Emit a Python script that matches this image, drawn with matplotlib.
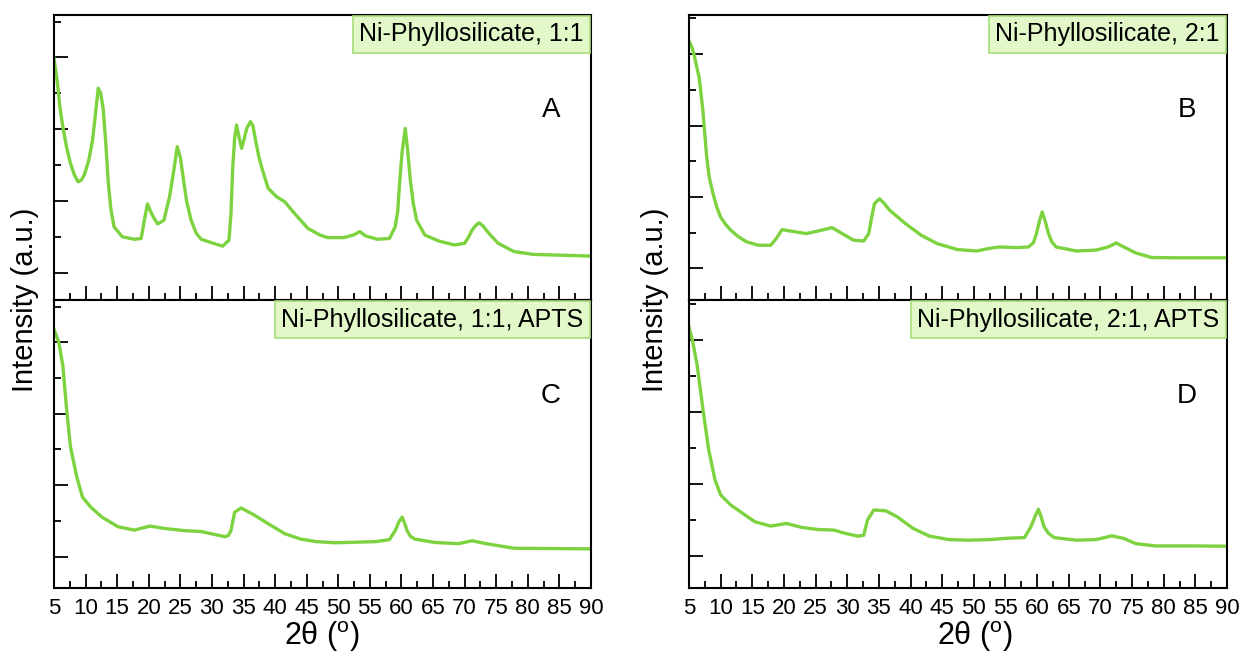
import matplotlib
matplotlib.use("Agg")
import matplotlib.pyplot as plt

plt.rcParams['font.family'] = ['Liberation Sans', 'DejaVu Sans']
plt.rcParams['mathtext.fontset'] = 'custom'
plt.rcParams['mathtext.rm'] = 'Liberation Sans'

# ---- data (2theta in degrees, intensity in a.u.) ----
a_x = [5.0, 5.5, 6.0, 6.4, 7.0, 7.6, 8.2, 8.8, 9.3, 9.8, 10.5, 11.1, 11.6, 12.0, 12.4, 12.8, 13.2, 13.6, 14.0,
       14.5, 15.8, 17.7, 18.8, 19.3, 19.8, 20.2, 20.7, 21.4, 22.4, 23.3, 24.0, 24.5, 25.0, 25.5, 26.0, 26.7,
       27.5, 28.3, 30.2, 31.7, 32.7, 33.0, 33.3, 33.6, 33.9, 34.3, 34.7, 35.1, 35.5, 36.1, 36.5, 36.9, 37.4,
       38.0, 38.9, 40.2, 41.5, 43.3, 45.2, 47.1, 48.3, 50.9, 52.4, 53.4, 54.3, 56.2, 58.1, 59.0, 59.4, 59.7,
       60.1, 60.6, 61.0, 61.4, 61.9, 62.4, 63.7, 65.9, 68.4, 70.0, 70.6, 71.2, 71.8, 72.3, 72.9, 73.4, 74.2,
       75.3, 77.8, 80.9, 90.0]
a_y = [84.8, 77.0, 66.5, 60.8, 53.5, 48.0, 44.0, 41.5, 42.0, 43.9, 49.0, 56.0, 66.0, 74.3, 72.5, 66.7, 55.0,
       40.9, 32.0, 25.7, 22.2, 21.3, 21.6, 28.0, 33.7, 31.5, 29.2, 26.7, 28.0, 36.3, 46.0, 53.8, 50.0, 42.1,
       34.5, 28.0, 23.5, 21.3, 19.9, 18.9, 21.0, 30.0, 46.8, 57.0, 61.4, 57.0, 53.2, 56.5, 60.2, 62.6, 61.0,
       56.1, 50.5, 45.6, 39.2, 36.3, 34.5, 29.8, 25.1, 22.8, 21.9, 21.9, 22.8, 24.0, 22.5, 21.3, 21.6, 25.7,
       31.0, 40.9, 52.0, 60.2, 52.0, 42.1, 33.5, 28.0, 22.8, 20.7, 19.3, 19.9, 22.0, 24.6, 26.3, 27.1, 26.0,
       24.6, 22.5, 19.9, 17.0, 16.0, 15.4]

b_x = [5.0, 5.5, 5.9, 6.3, 6.6, 7.2, 7.5, 7.8, 8.2, 8.8, 9.4, 10.0, 10.8, 11.6, 12.8, 14.1, 16.0, 17.9, 18.8,
       19.7, 21.0, 23.5, 25.4, 27.6, 29.2, 31.0, 32.6, 33.4, 33.9, 34.3, 35.1, 35.8, 36.7, 39.2, 41.7, 44.2,
       47.4, 50.5, 52.4, 54.0, 56.8, 58.6, 59.4, 59.9, 60.4, 60.8, 61.3, 61.8, 62.3, 63.0, 66.2, 69.3, 71.2,
       72.5, 73.7, 75.6, 78.1, 81.9, 90.0]
b_y = [90.9, 88.5, 85.1, 81.0, 78.1, 66.4, 58.0, 50.1, 43.0, 37.3, 32.5, 29.1, 26.5, 24.5, 22.2, 20.4, 19.2,
       19.2, 21.6, 24.7, 24.2, 23.3, 24.2, 25.4, 23.3, 21.0, 20.7, 23.3, 29.5, 33.8, 35.5, 34.0, 31.5, 26.8,
       22.7, 19.8, 17.7, 17.2, 18.1, 18.6, 18.4, 18.6, 20.0, 23.3, 28.0, 30.9, 27.5, 23.3, 20.5, 18.6, 17.2,
       17.5, 18.6, 20.0, 18.6, 16.5, 14.9, 14.8, 14.8]

c_x = [5.0, 5.75, 6.4, 7.0, 7.6, 8.6, 9.5, 10.8, 12.6, 15.1, 17.7, 20.2, 22.7, 25.8, 28.3, 30.2, 32.1, 32.6,
       33.0, 33.6, 34.6, 36.4, 39.0, 41.5, 44.0, 46.5, 49.6, 52.7, 55.9, 58.1, 59.0, 59.6, 60.1, 60.5, 60.9,
       61.4, 62.1, 65.3, 69.0, 71.2, 73.4, 77.8, 84.0, 90.0]
c_y = [89.8, 85.4, 77.2, 62.0, 49.1, 38.6, 31.6, 28.1, 24.6, 21.3, 20.1, 21.5, 20.6, 19.9, 19.6, 18.7, 17.8,
       18.2, 19.9, 26.3, 27.8, 25.7, 22.2, 18.9, 17.0, 16.1, 15.7, 15.9, 16.1, 16.8, 19.9, 23.0, 24.6, 22.5,
       19.9, 18.0, 17.0, 15.8, 15.4, 16.4, 15.4, 13.8, 13.7, 13.6]

d_x = [5.0, 5.6, 6.3, 7.2, 8.1, 9.1, 10.0, 11.6, 13.5, 15.4, 17.9, 20.4, 22.9, 25.4, 27.9, 29.8, 31.7, 32.6,
       33.2, 34.2, 36.1, 37.9, 40.4, 43.0, 46.1, 49.2, 52.4, 55.5, 58.0, 59.0, 59.7, 60.2, 60.6, 61.1, 61.8,
       62.7, 66.2, 69.3, 71.8, 73.7, 75.6, 78.7, 85.0, 90.0]
d_y = [90.7, 85.4, 77.2, 62.1, 48.1, 37.6, 32.3, 28.8, 25.9, 23.0, 21.5, 22.4, 21.0, 20.3, 20.1, 18.9, 18.0,
       18.3, 23.6, 27.1, 26.8, 24.7, 20.7, 18.0, 16.8, 16.6, 16.8, 17.3, 17.5, 21.2, 25.0, 27.3, 25.0, 21.2,
       19.0, 17.5, 16.6, 16.8, 18.1, 17.2, 15.4, 14.6, 14.6, 14.5]

labels = ["Ni-Phyllosilicate, 1:1", "Ni-Phyllosilicate, 2:1",
          "Ni-Phyllosilicate, 1:1, APTS", "Ni-Phyllosilicate, 2:1, APTS"]
letters = ["A", "B", "C", "D"]
x_ticks = list(range(5, 91, 5))

# y tick positions per panel (major / minor)
y_major = [[9.6, 34.7, 59.9, 85.2], [11.1, 36.1, 61.2, 86.2],
           [10.9, 35.8, 60.5, 85.5], [11.1, 36.1, 61.1, 86.1]]
y_minor = [[22.2, 47.4, 72.5, 97.6], [23.5, 48.6, 73.6, 99.0],
           [23.3, 48.1, 72.9, 97.7], [23.6, 48.5, 73.5, 98.6]]

series = [(a_x, a_y), (b_x, b_y), (c_x, c_y), (d_x, d_y)]

W, H = 1242, 655
fig = plt.figure(figsize=(W / 100, H / 100), dpi=100)

col_left = [54, 689]
col_right = [591, 1227]
row_top = [15, 300]
row_bot = [300, 588]

line_color = '#7DD33F'
box_face = '#E2F8C9'
box_edge = '#A6DD7A'
label_fs = 18
pad_px = 6.5

for i in range(4):
    r, c = divmod(i, 2)
    l, rr = col_left[c], col_right[c]
    t, b = row_top[r], row_bot[r]
    aw, ah = rr - l, b - t
    ax = fig.add_axes([l / W, 1 - b / H, aw / W, ah / H])
    x, y = series[i]
    ax.plot(x, y, color=line_color, lw=2.4, solid_joinstyle='round')
    ax.set_xlim(5, 90)
    ax.set_ylim(0, 100)
    ax.set_xticks(x_ticks)
    ax.set_xticks([v + 2.5 for v in x_ticks[:-1]], minor=True)
    ax.set_yticks(y_major[i])
    ax.set_yticks(y_minor[i], minor=True)
    ax.set_yticklabels([])
    ax.tick_params(axis='both', which='major', direction='in', length=10, width=1.3,
                   top=False, right=False, color='black')
    ax.tick_params(axis='both', which='minor', direction='in', length=5, width=1.3,
                   top=False, right=False, color='black')
    if r == 1:
        ax.set_xticklabels([str(v) for v in x_ticks], fontsize=16)
        ax.tick_params(axis='x', which='major', pad=7)
    else:
        ax.set_xticklabels([])
    for sp in ax.spines.values():
        sp.set_linewidth(1.5)
    pad_pt = pad_px * 72 / 100
    ax.text(1 - (pad_px + 1) / aw, 1 - (pad_px + 1) / ah, labels[i], transform=ax.transAxes,
            ha='right', va='top', fontsize=label_fs, zorder=5,
            bbox=dict(boxstyle='square,pad=%.3f' % (pad_pt / label_fs), facecolor=box_face,
                      edgecolor=box_edge, lw=1.2))
    ax.text(0.925, 0.665, letters[i], transform=ax.transAxes, ha='center', va='center',
            fontsize=20)

# y labels
fig.text(25 / W, 1 - 300 / H, "Intensity (a.u.)", rotation=90, ha='center', va='center', fontsize=21)
fig.text(655 / W, 1 - 300 / H, "Intensity (a.u.)", rotation=90, ha='center', va='center', fontsize=21)
# x labels
fig.text(322 / W, 1 - 637 / H, r"2θ ($^{\rm o}$)", ha='center', va='center', fontsize=22)
fig.text(975 / W, 1 - 637 / H, r"2θ ($^{\rm o}$)", ha='center', va='center', fontsize=22)

fig.savefig("out.png", dpi=100)
